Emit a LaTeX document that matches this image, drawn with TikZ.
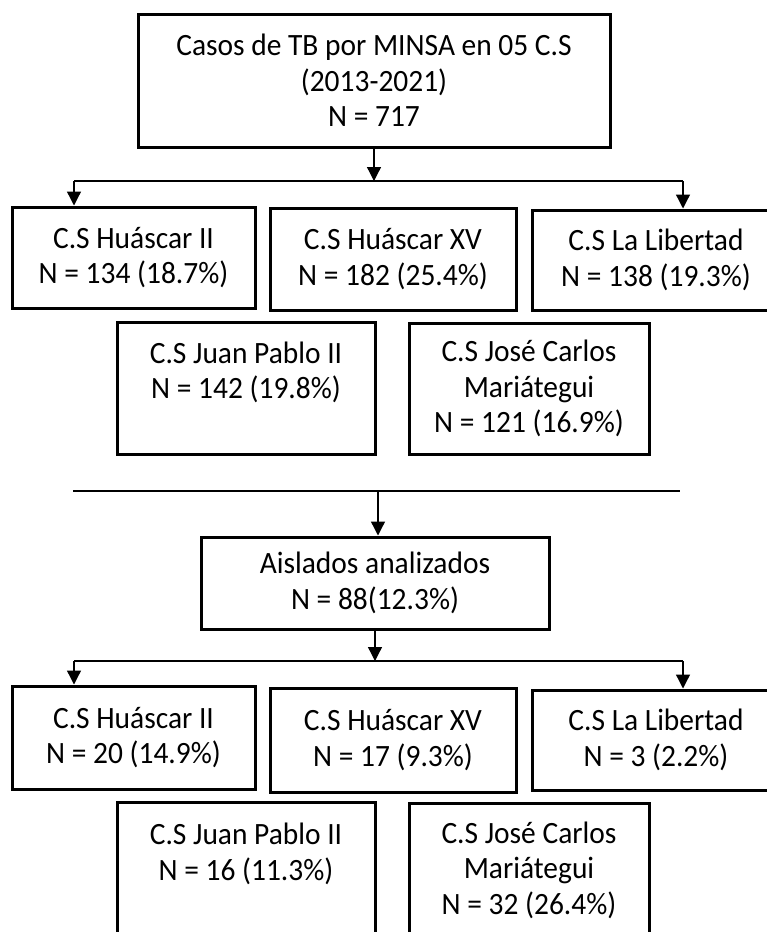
\documentclass[tikz,border=0pt]{standalone}
\usepackage{fontspec}
\setmainfont{Carlito}[FakeStretch=0.95]
\usepackage{tikz}
\usetikzlibrary{arrows.meta,positioning}
\tikzset{
  flowarrow/.style={-{Triangle[length=14pt,width=14pt]},line width=1.3pt,draw=black},
  link/.style={line width=1.3pt,draw=black},
  casebox/.style={draw=black,line width=3pt,fill=white,align=center,inner sep=0pt,font=\fontsize{31}{35.5}\selectfont},
  siteA/.style={casebox,minimum width=243pt},
  siteB/.style={casebox,minimum width=246pt},
  siteC/.style={casebox,minimum width=248pt},
  siteD/.style={casebox,minimum width=258pt},
  siteE/.style={casebox,minimum width=240pt}
}

\begin{document}
\begin{tikzpicture}[x=1pt,y=-1pt]
  \useasboundingbox (0,0) rectangle (766,932);

  \node[casebox,minimum width=472pt,minimum height=133pt] (casos) at (374,80.5)
    {Casos de TB por MINSA en 05 C.S\\(2013-2021)\\N = 717};

  \node[siteA,minimum height=101pt] (huaII) at (133.5,257.5) {C.S Huáscar II\\N = 134 (18.7\%)};
  \node[siteB,minimum height=102pt] (huaXV) at (393,259) {C.S Huáscar XV\\N = 182 (25.4\%)};
  \node[siteC,minimum height=100pt] (liber) at (656,260) {C.S La Libertad\\N = 138 (19.3\%)};
  \node[siteD,minimum height=132pt] (jpII) at (246,388) {C.S Juan Pablo II\\N = 142 (19.8\%)\\\phantom{N}};
  \node[siteE,minimum height=131pt] (jcm) at (529,388.5) {C.S José Carlos\\Mariátegui\\N = 121 (16.9\%)};

  \coordinate (splitA) at (374,181);
  \coordinate (leftA) at (74,181);
  \coordinate (rightA) at (683,181);
  \draw[flowarrow] (casos.south) -- (splitA);
  \draw[link] (leftA) -- (rightA);
  \draw[flowarrow] (leftA) -- (leftA |- huaII.north);
  \draw[flowarrow] (rightA) -- (rightA |- liber.north);

  \coordinate (sepL) at (73,491);
  \coordinate (sepR) at (680,491);
  \coordinate (sepM) at (378,491);
  \draw[link] (sepL) -- (sepR);

  \node[casebox,minimum width=348pt,minimum height=92pt] (aisl) at (375,583)
    {Aislados analizados\\N = 88(12.3\%)};
  \draw[flowarrow] (sepM) -- (sepM |- aisl.north);

  \node[siteA,minimum height=103pt] (huaIIb) at (133.5,737.5) {C.S Huáscar II\\N = 20 (14.9\%)};
  \node[siteB,minimum height=104pt] (huaXVb) at (393,740) {C.S Huáscar XV\\N = 17 (9.3\%)};
  \node[siteC,minimum height=100pt] (liberb) at (656,740) {C.S La Libertad\\N = 3 (2.2\%)};
  \node[siteD,minimum height=135pt] (jpIIb) at (246,869.5) {C.S Juan Pablo II\\N = 16 (11.3\%)\\\phantom{N}};
  \node[siteE,minimum height=134pt] (jcmb) at (529,870) {C.S José Carlos\\Mariátegui\\N = 32 (26.4\%)};

  \coordinate (splitB) at (375,661);
  \coordinate (leftB) at (74,661);
  \coordinate (rightB) at (683,661);
  \draw[flowarrow] (aisl.south) -- (splitB);
  \draw[link] (leftB) -- (rightB);
  \draw[flowarrow] (leftB) -- (leftB |- huaIIb.north);
  \draw[flowarrow] (rightB) -- (rightB |- liberb.north);
\end{tikzpicture}
\end{document}
